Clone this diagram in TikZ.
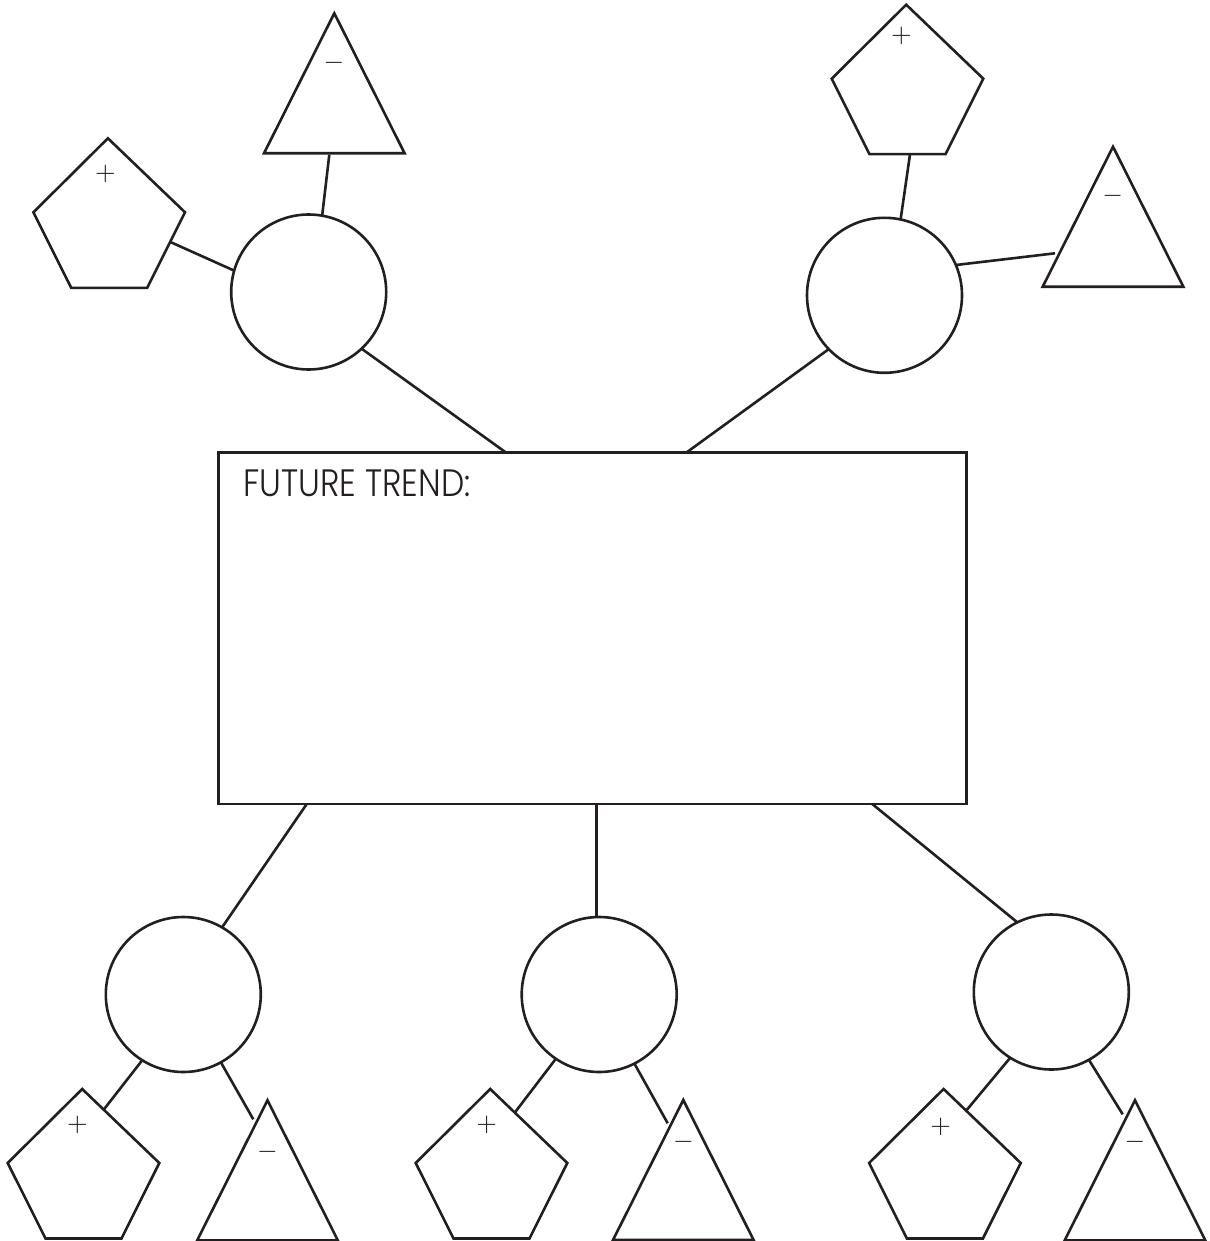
\documentclass[tikz,border=0pt]{standalone}
\usepackage{fontspec}
\usepackage{graphicx}
\newfontfamily\trendfont{Poppins Light}
\definecolor{ink}{RGB}{35,31,32}
\newcommand\plussign{\resizebox{20.6pt}{!}{$+$}}
\newcommand\minussign{\resizebox{20.6pt}{!}{$-$}}
\tikzset{
  shapeline/.style={draw=ink, line width=2.6pt},
  bubble/.style={circle, draw=ink, line width=2.6pt, minimum size=155pt, inner sep=0pt, outer sep=0pt},
  conn/.style={draw=ink, line width=2.6pt},
  sign/.style={text=ink, inner sep=0pt},
  trendbox/.style={draw=ink, line width=2.6pt, minimum width=748pt, minimum height=351.7pt, inner sep=0pt, outer sep=0pt},
}
\newcommand\pentat[3]{\coordinate (#1) at (#2,#3);
  \begin{scope}[shift={(#2,#3)}]
    \draw[shapeline] (-1.3,0) -- (75.8,74) -- (38,149.5) -- (-38,149.5) -- (-75.8,74) -- cycle;
  \end{scope}}
\newcommand\triat[3]{\coordinate (#1) at (#2,#3);
  \begin{scope}[shift={(#2,#3)}]
    \draw[shapeline] (0,0) -- (70.3,140) -- (-70.3,140) -- cycle;
  \end{scope}}
\begin{document}
\begin{tikzpicture}[x=1pt,y=-1pt]
\useasboundingbox[fill=white] (0,0) rectangle (1209,1241);

% central box
\node[trendbox] (trend) at (592.7,628.2) {};
\node[anchor=base west, inner sep=0pt, text=ink] (label) at (243.3,496)
  {\resizebox{227pt}{26.7pt}{\trendfont FUTURE TREND:}};

% circles
\node[bubble] (c1) at (308.7,292) {};
\node[bubble] (c2) at (884.5,295.3) {};
\node[bubble] (c3) at (183.3,994.5) {};
\node[bubble] (c4) at (599.2,994.5) {};
\node[bubble] (c5) at (1051.3,992) {};

% pentagons
\pentat{p1}{109.2}{138.3}
\pentat{p2}{907.5}{4.7}
\pentat{p3}{83.5}{1089}
\pentat{p4}{491.5}{1089}
\pentat{p5}{944.9}{1089}

% triangles
\triat{t1}{334.3}{13.3}
\triat{t2}{1113}{146.7}
\triat{t3}{267.5}{1100.3}
\triat{t4}{683.3}{1100}
\triat{t5}{1135}{1100.3}

% signs
\node[sign] (s1) at (105.3,174) {\plussign};
\node[sign] (s2) at (901.3,35.7) {\plussign};
\node[sign] (s3) at (77.3,1125) {\plussign};
\node[sign] (s4) at (486.7,1125) {\plussign};
\node[sign] (s5) at (940.7,1126.7) {\plussign};
\node[sign] (m1) at (334,62.7) {\minussign};
\node[sign] (m2) at (1112.7,195.7) {\minussign};
\node[sign] (m3) at (267.3,1151.7) {\minussign};
\node[sign] (m4) at (683.3,1141.7) {\minussign};
\node[sign] (m5) at (1135,1141.7) {\minussign};

% free ends of connectors on the small shapes
\coordinate (p1e) at (171,242.3);
\coordinate (t1e) at (329.3,154.7);
\coordinate (p2e) at (910,154.3);
\coordinate (t2e) at (1055,253.3);
\coordinate (p3e) at (104,1109.3);
\coordinate (t3e) at (253.3,1119.3);
\coordinate (p4e) at (515,1112.3);
\coordinate (t4e) at (667.7,1123.3);
\coordinate (p5e) at (966.7,1110);
\coordinate (t5e) at (1122.7,1114.3);

% connectors
\draw[conn] (c1.164.3) -- (p1e);
\draw[conn] (c1.80.4) -- (t1e);
\draw[conn] (c1.-47.6) -- ([xshift=287pt]trend.north west);
\draw[conn] (c2.78) -- (p2e);
\draw[conn] (c2.23.2) -- (t2e);
\draw[conn] (c2.224.2) -- ([xshift=468pt]trend.north west);
\draw[conn] ([xshift=88pt]trend.south west) -- (c3.60.7);
\draw[conn] (c4.92.4 |- trend.south) -- (c4.92.4);
\draw[conn] ([xshift=653.6pt]trend.south west) -- (c5.116.8);
\draw[conn] (c3.238) -- (p3e);
\draw[conn] (c3.-61.4) -- (t3e);
\draw[conn] (c4.236.7) -- (p4e);
\draw[conn] (c4.-63.3) -- (t4e);
\draw[conn] (c5.238.4) -- (p5e);
\draw[conn] (c5.-61.9) -- (t5e);
\end{tikzpicture}
\end{document}
